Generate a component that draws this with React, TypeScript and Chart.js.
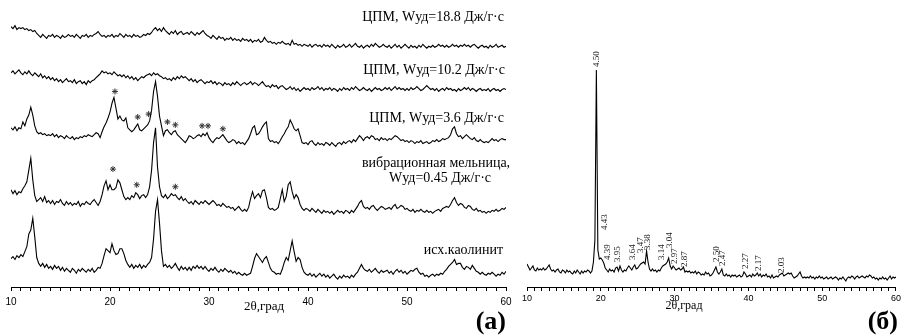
import React, { useEffect, useRef } from "react";
import { Chart, registerables } from "chart.js";

Chart.register(...registerables);

// ---------- sampling grid (2θ, degrees) ----------
const ANGLE_MIN = 10;
const ANGLE_MAX = 60;
const ANGLE_STEP = 0.2;
const majorTicks = [10, 20, 30, 40, 50, 60];
const axisTitle = "2θ,град";

// ---------- panel (а): stacked diffractograms (intensity, arb. units) ----------
const cpm188 = [
  266, 264, 267, 263, 265, 264, 265, 263, 264, 262,
  263, 261, 262, 259, 257, 255, 258, 256, 254, 257,
  256, 258, 255, 257, 256, 254, 257, 255, 256, 258,
  256, 257, 255, 258, 256, 254, 257, 256, 258, 255,
  257, 256, 258, 259, 261, 258, 256, 257, 255, 257,
  256, 258, 255, 257, 256, 259, 257, 255, 258, 256,
  257, 255, 258, 256, 257, 255, 256, 258, 257, 259,
  258, 260, 263, 265, 262, 264, 261, 265, 262, 260,
  258, 261, 259, 262, 258, 260, 261, 258, 259, 260,
  258, 261, 259, 257, 260, 258, 260, 262, 259, 257,
  256, 254, 257, 255, 253, 256, 254, 255, 252, 254,
  253, 255, 252, 254, 252, 253, 251, 254, 252, 253,
  251, 253, 250, 252, 251, 253, 250, 251, 255, 252,
  250, 251, 249, 250, 248, 250, 249, 251, 249, 248,
  249, 247, 252, 248, 249, 247, 248, 246, 248, 247,
  246, 248, 245, 247, 248, 246, 247, 245, 248, 246,
  247, 245, 248, 246, 244, 247, 245, 246, 248, 245,
  246, 248, 245, 247, 249, 246, 245, 247, 244, 246,
  247, 245, 248, 246, 249, 247, 245, 246, 248, 246,
  245, 247, 244, 246, 248, 245, 247, 244, 246, 248,
  246, 244, 247, 245, 246, 244, 247, 245, 248, 246,
  244, 246, 245, 247, 245, 246, 248, 246, 247, 245,
  247, 245, 246, 248, 246, 247, 245, 247, 246, 248,
  246, 247, 245, 247, 248, 246, 244, 246, 247, 245,
  246, 244, 247, 245, 246, 248, 245, 246, 247, 245,
  246,
];

const cpm102 = [
  219, 221, 218, 220, 222, 219, 217, 220, 218, 221,
  218, 216, 219, 217, 215, 218, 214, 216, 213, 215,
  212, 214, 211, 213, 210, 212, 209, 211, 213, 210,
  211, 209, 212, 208, 210, 211, 208, 210, 207, 211,
  209, 211, 212, 214, 216, 218, 221, 219, 220, 218,
  219, 217, 220, 218, 216, 217, 215, 217, 214, 216,
  213, 215, 212, 214, 211, 213, 215, 214, 216, 217,
  218, 216, 219, 217, 218, 216, 215, 213, 214, 212,
  213, 211, 214, 212, 215, 213, 216, 214, 215, 213,
  211, 213, 210, 212, 209, 211, 212, 210, 208, 210,
  209, 211, 208, 210, 207, 209, 208, 206, 209, 207,
  208, 206, 209, 207, 210, 208, 206, 208, 209, 207,
  208, 210, 207, 209, 208, 206, 208, 210, 207, 205,
  206, 204, 207, 205, 206, 203, 205, 206, 204, 202,
  203, 205, 202, 204, 201, 203, 200, 202, 204, 202,
  203, 201, 204, 202, 203, 205, 202, 204, 201, 203,
  202, 204, 201, 203, 202, 200, 203, 201, 204, 202,
  203, 201, 204, 202, 205, 203, 201, 202, 204, 202,
  201, 203, 200, 202, 204, 202, 203, 201, 202, 204,
  202, 204, 201, 203, 205, 202, 204, 202, 203, 201,
  203, 201, 204, 202, 203, 205, 203, 201, 202, 204,
  206, 204, 202, 203, 201, 203, 200, 202, 203, 201,
  204, 202, 203, 201, 202, 200, 203, 201, 202, 204,
  202, 204, 201, 203, 202, 200, 202, 203, 201, 202,
  201, 203, 200, 202, 203, 201, 202, 200, 202, 203,
  202,
];

const cpm36 = [
  163, 161, 164, 160, 163, 162, 169, 165, 172, 176,
  184, 176, 165, 159, 157, 158, 156, 157, 155, 156,
  155, 157, 154, 156, 153, 155, 154, 152, 155, 153,
  152, 154, 151, 153, 152, 154, 153, 155, 154, 156,
  155, 154, 156, 158, 157, 153, 159, 164, 168, 173,
  179, 188, 194, 183, 172, 175, 171, 170, 173, 163,
  161, 159, 161, 164, 167, 161, 160, 162, 164, 166,
  170, 181, 200, 210, 195, 175, 165, 155, 160, 161,
  158, 156, 159, 160, 156, 154, 152, 150, 148, 151,
  155, 154, 152, 153, 155, 156, 154, 157, 155, 158,
  153, 150, 148, 151, 153, 152, 154, 156, 153, 150,
  148, 149, 151, 150, 147, 149, 147, 148, 146, 149,
  152, 157, 163, 165, 156, 157, 160, 164, 167, 169,
  152, 149, 150, 148, 149, 147, 150, 154, 157, 161,
  164, 171, 167, 162, 160, 162, 155, 148, 147, 148,
  146, 149, 150, 147, 145, 148, 146, 147, 145, 148,
  147, 145, 148, 146, 144, 147, 148, 146, 149, 147,
  149, 150, 148, 151, 149, 152, 155, 153, 150, 153,
  154, 152, 155, 154, 151, 152, 150, 153, 151, 152,
  150, 152, 151, 153, 155, 154, 152, 150, 151, 149,
  150, 148, 150, 149, 147, 149, 148, 150, 147, 148,
  149, 147, 148, 150, 149, 151, 149, 150, 152, 151,
  152, 153, 156, 162, 164, 157, 154, 155, 152, 154,
  156, 154, 152, 151, 153, 150, 149, 151, 149, 148,
  149, 148, 150, 152, 150, 151, 149, 151, 152, 151,
  151,
];

const vibMill045 = [
  100, 96, 99, 95, 98, 97, 101, 104, 108, 120,
  132, 110, 94, 88, 90, 92, 88, 93, 87, 89,
  86, 89, 85, 88, 87, 90, 86, 84, 88, 85,
  87, 84, 86, 85, 88, 83, 86, 85, 88, 86,
  85, 88, 90, 87, 84, 88, 95, 104, 109, 100,
  105, 100, 100, 102, 110, 107, 100, 93, 90, 92,
  90, 94, 92, 97, 95, 91, 94, 95, 92, 95,
  103, 120, 148, 163, 123, 103, 94, 92, 95, 91,
  93, 96, 94, 95, 92, 90, 93, 89, 91, 88,
  86, 88, 85, 89, 87, 85, 88, 86, 89, 87,
  85, 87, 89, 87, 84, 85, 83, 86, 84, 82,
  83, 81, 82, 79, 81, 83, 80, 78, 80, 78,
  82, 91, 98, 91, 94, 96, 92, 99, 100, 92,
  82, 80, 81, 79, 80, 82, 91, 100, 88, 93,
  105, 108, 98, 91, 95, 92, 85, 81, 79, 81,
  80, 78, 81, 79, 77, 80, 78, 76, 79, 77,
  78, 76, 78, 75, 77, 79, 77, 78, 76, 79,
  78, 76, 79, 77, 80, 83, 87, 89, 83, 81,
  82, 80, 83, 84, 81, 79, 81, 83, 82, 80,
  81, 82, 80, 83, 85, 81, 82, 84, 83, 80,
  81, 79, 78, 80, 77, 79, 78, 80, 78, 77,
  79, 77, 78, 76, 78, 79, 80, 78, 81, 82,
  83, 82, 85, 89, 92, 87, 84, 86, 85, 82,
  81, 84, 83, 80, 79, 81, 78, 79, 77, 78,
  76, 78, 77, 79, 78, 80, 78, 79, 81, 80,
  82,
];

const kaolinite = [
  30, 32, 29, 33, 31, 34, 32, 37, 42, 55,
  59, 71, 52, 31, 25, 22, 25, 21, 24, 20,
  22, 19, 23, 20, 22, 18, 21, 17, 20, 18,
  16, 20, 18, 15, 19, 17, 20, 18, 16, 19,
  17, 20, 16, 18, 21, 20, 25, 33, 40, 38,
  36, 45, 38, 34, 35, 40, 40, 35, 28, 24,
  21, 24, 20, 23, 21, 24, 20, 23, 21, 24,
  26, 31, 50, 78, 90, 66, 38, 22, 24, 21,
  23, 20, 22, 25, 21, 18, 22, 19, 21, 18,
  21, 18, 22, 20, 23, 20, 22, 19, 22, 19,
  17, 20, 18, 21, 18, 16, 19, 17, 20, 18,
  16, 18, 15, 17, 14, 16, 14, 13, 15, 13,
  14, 15, 22, 30, 35, 32, 29, 26, 30, 32,
  26, 20, 17, 16, 14, 15, 14, 19, 26, 31,
  28, 38, 48, 37, 27, 31, 29, 21, 16, 14,
  13, 15, 12, 14, 11, 13, 15, 12, 14, 11,
  13, 10, 12, 14, 11, 9, 12, 10, 13, 11,
  12, 10, 13, 11, 14, 16, 20, 24, 20, 18,
  17, 19, 16, 18, 20, 17, 15, 18, 16, 17,
  18, 15, 17, 14, 17, 19, 16, 18, 15, 17,
  14, 16, 18, 17, 19, 20, 16, 14, 15, 12,
  13, 11, 13, 14, 12, 14, 13, 15, 14, 17,
  19, 22, 24, 26, 29, 24, 25, 25, 21, 19,
  22, 21, 19, 23, 20, 17, 16, 14, 16, 14,
  13, 15, 14, 16, 14, 12, 14, 13, 16, 14,
  17,
];

const seriesLabels = [
  "ЦПМ, Wуд=18.8 Дж/г·с",
  "ЦПМ, Wуд=10.2 Дж/г·с",
  "ЦПМ, Wуд=3.6 Дж/г·с",
  "вибрационная мельница,",
  "Wуд=0.45 Дж/г·с",
  "исх.каолинит",
];

// asterisks (new-phase reflections)
const starAnglesCpm36 = [20.5, 22.8, 23.9, 25.8, 26.6, 29.3, 29.9, 31.4];
const starLevelsCpm36 = [200, 174, 177, 169, 166, 165, 165, 162];
const starAnglesVib = [20.3, 22.7, 26.6];
const starLevelsVib = [121, 105, 103];

// ---------- panel (б) ----------
const patternB = [
  23, 20, 17, 19, 21, 17, 16, 19, 17, 18,
  17, 19, 17, 18, 20, 22, 18, 16, 17, 15,
  17, 18, 15, 14, 17, 16, 14, 17, 15, 16,
  14, 13, 16, 14, 17, 15, 13, 16, 14, 16,
  15, 17, 16, 14, 16, 25, 47, 217, 37, 28,
  29, 27, 24, 19, 17, 15, 18, 16, 17, 15,
  19, 20, 16, 21, 17, 15, 17, 16, 19, 21,
  19, 17, 20, 22, 18, 19, 21, 23, 24, 25,
  23, 36, 25, 18, 16, 18, 16, 17, 15, 17,
  16, 19, 21, 22, 23, 25, 29, 21, 18, 21,
  19, 17, 18, 19, 17, 18, 20, 15, 16, 15,
  16, 14, 15, 14, 16, 13, 15, 14, 12, 13,
  12, 15, 13, 14, 11, 12, 14, 17, 20, 15,
  13, 15, 18, 12, 11, 13, 11, 12, 10, 12,
  11, 12, 10, 11, 12, 10, 11, 15, 13, 10,
  11, 12, 10, 13, 11, 12, 14, 11, 13, 10,
  12, 11, 13, 10, 11, 9, 12, 9, 10, 11,
  10, 12, 13, 14, 11, 12, 13, 14, 13, 14,
  11, 9, 10, 11, 13, 15, 11, 9, 10, 9,
  10, 9, 11, 9, 10, 8, 10, 9, 11, 9,
  10, 8, 9, 10, 8, 9, 10, 8, 9, 10,
  9, 7, 9, 8, 10, 8, 6, 9, 10, 9,
  11, 10, 8, 10, 11, 9, 10, 11, 10, 9,
  11, 10, 12, 11, 9, 10, 8, 9, 7, 9,
  8, 10, 8, 9, 7, 9, 11, 8, 10, 9,
  10,
];

const peakLabelsB = ["4.50", "4.43", "4.39", "3.95", "3.64", "3.47", "3.38", "3.14", "3.04", "2.97", "2.87", "2.50", "2.47", "2.27", "2.17", "2.03"];
const peakAnglesB = [19.46, 20.54, 20.95, 22.3, 24.32, 25.41, 26.35, 28.24, 29.32, 30.0, 31.35, 35.68, 36.49, 39.6, 41.35, 44.46];
const peakLabelLevelsB = [220, 57, 27, 25, 27, 34, 37, 27, 39, 23, 20, 25, 21, 18, 16, 14];

// ---------- helpers ----------
function toPoints(values: number[]) {
  return values.map((v, i) => ({ x: Math.round((ANGLE_MIN + i * ANGLE_STEP) * 10) / 10, y: v }));
}
function pairPoints(xs: number[], ys: number[]) {
  return xs.map((x, i) => ({ x, y: ys[i] }));
}

const SERIF = '"Liberation Serif", "Times New Roman", serif';
const SANS = '"Liberation Sans", Arial, sans-serif';

function xAxis(height: number, tickFont: number, tickPad: number, tickLen: number) {
  return {
    type: "linear" as const,
    min: ANGLE_MIN,
    max: ANGLE_MAX,
    afterFit: (scale: any) => {
      scale.height = height;
    },
    ticks: {
      stepSize: 1,
      autoSkip: false,
      maxRotation: 0,
      padding: tickPad,
      color: "#000",
      font: { family: SANS, size: tickFont },
      callback: (v: any) => (majorTicks.includes(Number(v)) ? String(v) : ""),
    },
    grid: {
      display: true,
      drawOnChartArea: false,
      drawTicks: true,
      tickLength: tickLen,
      color: "#000",
      lineWidth: 1,
    },
    border: { display: true, color: "#000", width: 1 },
  };
}

const lineStyle = {
  borderColor: "#000",
  borderWidth: 1.1,
  pointRadius: 0,
  tension: 0,
  fill: false,
};

const textsA = {
  id: "textsA",
  afterDraw(chart: any) {
    const ctx = chart.ctx as CanvasRenderingContext2D;
    ctx.save();
    ctx.fillStyle = "#000";
    ctx.textBaseline = "middle";
    ctx.font = `14px ${SERIF}`;
    ctx.textAlign = "right";
    ctx.fillText(seriesLabels[0], 504, 17);
    ctx.fillText(seriesLabels[1], 505, 70);
    ctx.fillText(seriesLabels[2], 504, 118);
    ctx.textAlign = "center";
    ctx.fillText(seriesLabels[3], 436, 163);
    ctx.fillText(seriesLabels[4], 440, 178);
    ctx.textAlign = "right";
    ctx.fillText(seriesLabels[5], 503, 250);
    ctx.font = `13px ${SERIF}`;
    ctx.textAlign = "center";
    ctx.fillText(axisTitle, 264, 307);
    ctx.font = `bold 26px ${SERIF}`;
    ctx.textAlign = "right";
    ctx.textBaseline = "alphabetic";
    ctx.fillText("(а)", 506, 329);
    ctx.restore();
  },
};

const textsB = {
  id: "textsB",
  afterDraw(chart: any) {
    const ctx = chart.ctx as CanvasRenderingContext2D;
    const xs = chart.scales.x;
    const ys = chart.scales.y;
    ctx.save();
    ctx.fillStyle = "#222";
    ctx.font = `9px ${SERIF}`;
    ctx.textAlign = "left";
    ctx.textBaseline = "middle";
    peakLabelsB.forEach((lab, i) => {
      const px = xs.getPixelForValue(peakAnglesB[i]);
      const py = ys.getPixelForValue(peakLabelLevelsB[i]);
      ctx.save();
      ctx.translate(px, py);
      ctx.rotate(-Math.PI / 2);
      ctx.fillText(lab, 0, 0);
      ctx.restore();
    });
    ctx.fillStyle = "#000";
    ctx.font = `12px ${SERIF}`;
    ctx.textAlign = "center";
    ctx.fillText(axisTitle, 164, 306);
    ctx.font = `bold 26px ${SERIF}`;
    ctx.textAlign = "right";
    ctx.textBaseline = "alphabetic";
    ctx.fillText("(б)", 378, 329);
    ctx.restore();
  },
};

export default function App() {
  const refA = useRef<HTMLCanvasElement>(null);
  const refB = useRef<HTMLCanvasElement>(null);

  useEffect(() => {
    const starStyle = {
      showLine: false,
      pointStyle: "star" as const,
      pointRadius: 3,
      borderColor: "#333",
      borderWidth: 1,
      backgroundColor: "#333",
    };
    const chartA = new Chart(refA.current!, {
      type: "line",
      data: {
        datasets: [
          { ...lineStyle, label: seriesLabels[0], data: toPoints(cpm188) },
          { ...lineStyle, label: seriesLabels[1], data: toPoints(cpm102) },
          { ...lineStyle, label: seriesLabels[2], data: toPoints(cpm36) },
          { ...lineStyle, label: seriesLabels[4], data: toPoints(vibMill045) },
          { ...lineStyle, label: seriesLabels[5], data: toPoints(kaolinite) },
          { ...starStyle, label: "* 3.6", data: pairPoints(starAnglesCpm36, starLevelsCpm36) },
          { ...starStyle, label: "* 0.45", data: pairPoints(starAnglesVib, starLevelsVib) },
        ] as any,
      },
      options: {
        responsive: false,
        animation: false,
        layout: { padding: { left: 11, right: 14, top: 0, bottom: 0 } },
        plugins: { legend: { display: false }, tooltip: { enabled: false } },
        scales: {
          x: xAxis(49, 10, 5, 4) as any,
          y: { display: false, min: 1, max: 288 },
        },
      },
      plugins: [textsA],
    });

    const chartB = new Chart(refB.current!, {
      type: "line",
      data: {
        datasets: [{ ...lineStyle, label: "б", data: toPoints(patternB) }] as any,
      },
      options: {
        responsive: false,
        animation: false,
        layout: { padding: { left: 7, right: 6, top: 0, bottom: 0 } },
        plugins: { legend: { display: false }, tooltip: { enabled: false } },
        scales: {
          x: xAxis(49, 9, 2, 4) as any,
          y: { display: false, min: 0, max: 287 },
        },
      },
      plugins: [textsB],
    });

    return () => {
      chartA.destroy();
      chartB.destroy();
    };
  }, []);

  return (
    <div style={{ position: "fixed", left: 0, top: 0, width: 903, height: 336, background: "#fff" }}>
      <canvas ref={refA} width={520} height={336} style={{ position: "absolute", left: 0, top: 0, width: 520, height: 336 }} />
      <canvas ref={refB} width={383} height={336} style={{ position: "absolute", left: 520, top: 0, width: 383, height: 336 }} />
    </div>
  );
}
